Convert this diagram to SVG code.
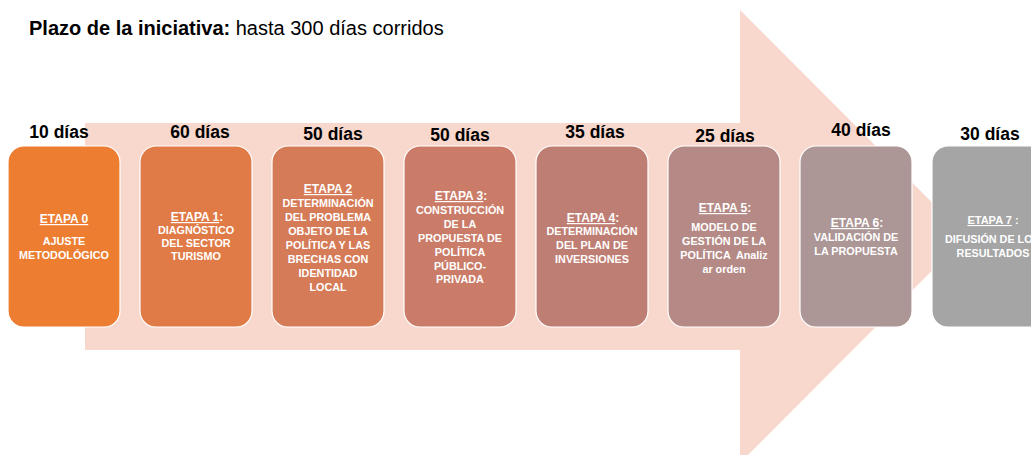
<svg xmlns="http://www.w3.org/2000/svg" width="1031" height="455" viewBox="0 0 1031 455">
<style>
.lbl{font-family:"Liberation Sans",Arial,sans-serif;font-weight:bold;font-size:17.5px;fill:#000;text-anchor:middle}
.box{stroke:#fff;stroke-width:1.2}
.hd{font-family:"Liberation Sans",Arial,sans-serif;font-weight:bold;font-size:12px;fill:#fff;text-anchor:middle}
.u{text-decoration:underline}
.tx{font-family:"Liberation Sans",Arial,sans-serif;font-weight:bold;font-size:10.8px;fill:#fff;text-anchor:middle}
.title{font-family:"Liberation Sans",Arial,sans-serif;font-size:20px;fill:#000}
</style>
<rect width="1031" height="455" fill="#fff"/>
<text class="title" x="29" y="35"><tspan font-weight="bold">Plazo de la iniciativa:</tspan> hasta 300 días corridos</text>
<g id="connectors">
<path d="M85,123 H740 V10 L966,236.5 L740,463 V350 H85 Z" fill="#F8D7CC"/>
</g>
<g id="labels">
<text class="lbl" x="59" y="138">10 días</text>
<text class="lbl" x="200" y="138">60 días</text>
<text class="lbl" x="333" y="140">50 días</text>
<text class="lbl" x="460" y="141">50 días</text>
<text class="lbl" x="595" y="138">35 días</text>
<text class="lbl" x="725" y="142">25 días</text>
<text class="lbl" x="861" y="136">40 días</text>
<text class="lbl" x="990" y="140">30 días</text>
</g>
<g id="etapa0">
<rect class="box" x="8" y="146" width="112" height="181" rx="16" fill="#ED7D31"/>
<text class="hd" x="64" y="223"><tspan class="u">ETAPA 0</tspan></text>
<text class="tx" x="64" y="245">AJUSTE</text>
<text class="tx" x="64" y="259">METODOLÓGICO</text>
</g>
<g id="etapa1">
<rect class="box" x="140" y="146" width="112" height="181" rx="16" fill="#E07A46"/>
<text class="hd" x="197" y="221"><tspan class="u">ETAPA 1</tspan>:</text>
<text class="tx" x="196" y="234">DIAGNÓSTICO</text>
<text class="tx" x="196" y="247">DEL SECTOR</text>
<text class="tx" x="196" y="260">TURISMO</text>
</g>
<g id="etapa2">
<rect class="box" x="272" y="146" width="112" height="181" rx="16" fill="#D57B58"/>
<text class="hd" x="328" y="193"><tspan class="u">ETAPA 2</tspan></text>
<text class="tx" x="328" y="207">DETERMINACIÓN</text>
<text class="tx" x="328" y="221">DEL PROBLEMA</text>
<text class="tx" x="328" y="235">OBJETO DE LA</text>
<text class="tx" x="328" y="249">POLÍTICA Y LAS</text>
<text class="tx" x="328" y="263">BRECHAS CON</text>
<text class="tx" x="328" y="277">IDENTIDAD</text>
<text class="tx" x="328" y="291">LOCAL</text>
</g>
<g id="etapa3">
<rect class="box" x="404" y="146" width="112" height="181" rx="16" fill="#CA7C68"/>
<text class="hd" x="461" y="200"><tspan class="u">ETAPA 3</tspan>:</text>
<text class="tx" x="460" y="214">CONSTRUCCIÓN</text>
<text class="tx" x="460" y="228">DE LA</text>
<text class="tx" x="460" y="242">PROPUESTA DE</text>
<text class="tx" x="460" y="256">POLÍTICA</text>
<text class="tx" x="460" y="270">PÚBLICO-</text>
<text class="tx" x="460" y="283">PRIVADA</text>
</g>
<g id="etapa4">
<rect class="box" x="536" y="146" width="112" height="181" rx="16" fill="#BF7E74"/>
<text class="hd" x="593" y="222"><tspan class="u">ETAPA 4</tspan>:</text>
<text class="tx" x="592" y="235">DETERMINACIÓN</text>
<text class="tx" x="592" y="249">DEL PLAN DE</text>
<text class="tx" x="592" y="263">INVERSIONES</text>
</g>
<g id="etapa5">
<rect class="box" x="668" y="146" width="112" height="181" rx="16" fill="#B58A86"/>
<text class="hd" x="725" y="212"><tspan class="u">ETAPA 5</tspan>:</text>
<text class="tx" x="724" y="231">MODELO DE</text>
<text class="tx" x="724" y="245">GESTIÓN DE LA</text>
<text class="tx" x="724" y="259" xml:space="preserve">POLÍTICA  Analiz</text>
<text class="tx" x="724" y="273">ar orden</text>
</g>
<g id="etapa6">
<rect class="box" x="800" y="146" width="112" height="181" rx="16" fill="#AD9696"/>
<text class="hd" x="857" y="227"><tspan class="u">ETAPA 6</tspan>:</text>
<text class="tx" x="856" y="241">VALIDACIÓN DE</text>
<text class="tx" x="856" y="255">LA PROPUESTA</text>
</g>
<g id="etapa7">
<rect class="box" x="932" y="146" width="124" height="181" rx="16" fill="#A5A5A5"/>
<text class="hd" x="993" y="224" style="font-size:11px"><tspan class="u">ETAPA 7</tspan> :</text>
<text class="tx" x="945" y="243" style="text-anchor:start">DIFUSIÓN DE LO</text>
<text class="tx" x="993" y="257">RESULTADOS</text>
</g>
</svg>
